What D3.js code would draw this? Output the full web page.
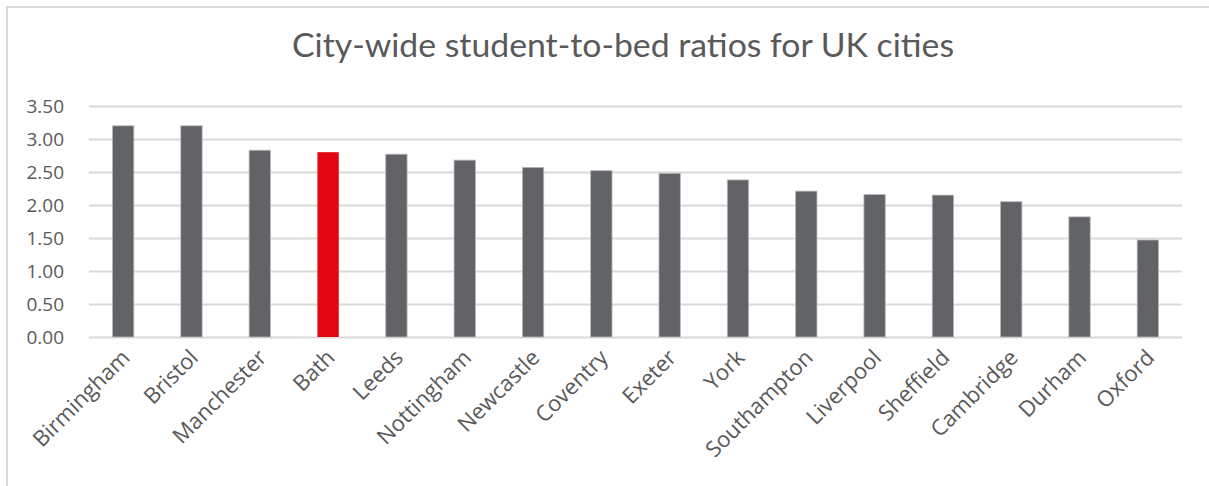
<!DOCTYPE html>
<html>
<head>
<meta charset="utf-8">
<script src="https://cdn.jsdelivr.net/npm/d3@7"></script>
<style>
  html, body { margin: 0; padding: 0; background: #ffffff; }
  svg { display: block; }
</style>
</head>
<body>
<svg id="chart" width="1209" height="486"></svg>
<script>
// City-wide student-to-bed ratios
const cities = ["Birmingham", "Bristol", "Manchester", "Bath", "Leeds", "Nottingham",
  "Newcastle", "Coventry", "Exeter", "York", "Southampton", "Liverpool",
  "Sheffield", "Cambridge", "Durham", "Oxford"];
const ratios = [3.20, 3.20, 2.83, 2.80, 2.77, 2.68, 2.57, 2.52, 2.48, 2.38,
  2.21, 2.16, 2.15, 2.05, 1.82, 1.47];
const highlighted = ["Bath"];
const yTicks = [0, 0.5, 1, 1.5, 2, 2.5, 3, 3.5];
const titleText = "City-wide student-to-bed ratios for UK cities";

const W = 1209, H = 486;
const plot = { left: 89, right: 1182, top: 106, bottom: 337 };
const textColor = "#595959";
const gridColor = "#d9d9d9";

const svg = d3.select("#chart");

// outer chart frame
svg.append("rect")
  .attr("x", 7).attr("y", 7)
  .attr("width", W + 20).attr("height", H + 20)
  .attr("fill", "#ffffff")
  .attr("stroke", gridColor).attr("stroke-width", 2);

const x = d3.scaleBand()
  .domain(cities)
  .range([plot.left, plot.right])
  .paddingInner(0.6875)
  .paddingOuter(0.34375);

const y = d3.scaleLinear()
  .domain([0, 3.5])
  .range([plot.bottom, plot.top]);

// title
svg.append("text")
  .attr("x", 623).attr("y", 57)
  .attr("text-anchor", "middle")
  .attr("font-family", "Lato, 'Open Sans', sans-serif")
  .attr("font-weight", 400)
  .attr("font-size", 33)
  .attr("textLength", 662)
  .attr("lengthAdjust", "spacingAndGlyphs")
  .attr("fill", textColor)
  .text(titleText);

// gridlines
svg.append("g")
  .selectAll("line")
  .data(yTicks)
  .join("line")
  .attr("x1", plot.left).attr("x2", plot.right)
  .attr("y1", d => Math.round(y(d)) + 0.5)
  .attr("y2", d => Math.round(y(d)) + 0.5)
  .attr("stroke", gridColor).attr("stroke-width", 2);

// y axis labels
const yAxis = d3.axisLeft(y)
  .tickValues(yTicks)
  .tickFormat(d3.format(".2f"))
  .tickSize(0)
  .tickPadding(0);
const yg = svg.append("g")
  .attr("transform", `translate(64,0)`)
  .call(yAxis);
yg.select(".domain").remove();
yg.selectAll("text")
  .attr("font-family", "'Open Sans', sans-serif")
  .attr("font-size", 19)
  .attr("fill", textColor);

// bars
svg.append("g")
  .selectAll("rect")
  .data(cities.map((c, i) => ({ city: c, value: ratios[i] })))
  .join("rect")
  .attr("x", d => x(d.city))
  .attr("width", x.bandwidth())
  .attr("y", d => y(d.value))
  .attr("height", d => y(0) - y(d.value))
  .attr("fill", d => highlighted.includes(d.city) ? "#e30613" : "#626366")
  .attr("stroke", d => highlighted.includes(d.city) ? "none" : "#b8b8b8")
  .attr("stroke-width", 0.8);

// category labels
const xAxis = d3.axisBottom(x).tickSize(0).tickPadding(0);
const xg = svg.append("g")
  .attr("transform", `translate(0,${plot.bottom})`)
  .call(xAxis);
xg.select(".domain").remove();
xg.selectAll("text")
  .attr("font-family", "'Open Sans', sans-serif")
  .attr("font-size", 22)
  .attr("fill", textColor)
  .attr("text-anchor", "end")
  .attr("dy", null)
  .attr("y", null)
  .attr("transform", "translate(8,22) rotate(-45)");
</script>
</body>
</html>
